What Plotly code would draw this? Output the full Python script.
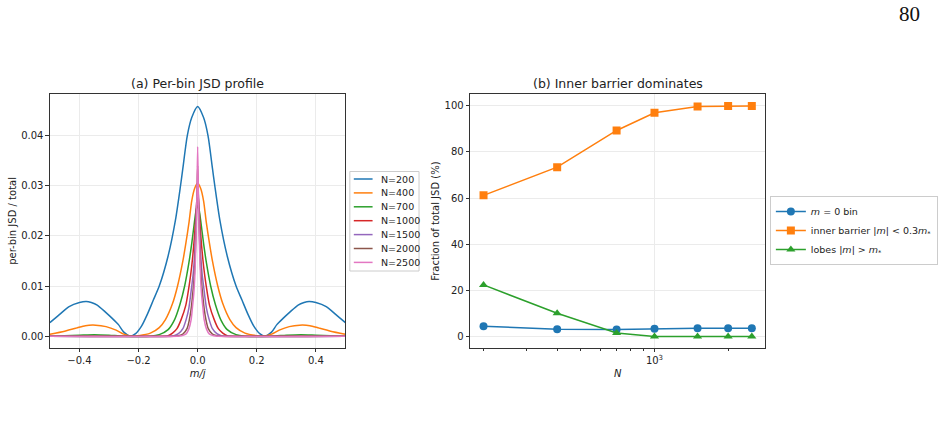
import plotly.graph_objects as go

# ---------------- Panel (a): per-bin JSD profile (half profiles, symmetric about m/j = 0) -------------
labels_a = ["N=200", "N=400", "N=700", "N=1000", "N=1500", "N=2000", "N=2500"]
colors = ["#1f77b4", "#ff7f0e", "#2ca02c", "#d62728", "#9467bd", "#8c564b", "#e377c2"]

m_200 = [0.0, 0.02, 0.035, 0.05, 0.058, 0.075, 0.10, 0.13, 0.15, 0.17, 0.19, 0.21, 0.228,
         0.25, 0.268, 0.29, 0.312, 0.34, 0.36, 0.377, 0.40, 0.435, 0.468, 0.5]
y_200 = [0.0458, 0.0436, 0.0400, 0.0335, 0.0300, 0.0232, 0.0160, 0.0100, 0.0072, 0.0044, 0.0020, 0.0005, 0.0,
         0.0008, 0.0023, 0.0036, 0.0048, 0.0062, 0.0067, 0.0069, 0.0067, 0.0059, 0.0043, 0.0027]

m_400 = [0.0, 0.01, 0.02, 0.029, 0.04, 0.05, 0.068, 0.085, 0.109, 0.13, 0.16, 0.2, 0.225,
         0.25, 0.276, 0.31, 0.345, 0.38, 0.411, 0.45, 0.5]
y_400 = [0.0305, 0.0295, 0.0270, 0.0228, 0.0185, 0.0150, 0.0100, 0.0065, 0.0033, 0.0017, 0.0006, 0.0001, 0.0,
         0.0004, 0.0012, 0.0019, 0.0022, 0.0021, 0.0016, 0.0010, 0.0004]

m_700 = [0.0, 0.005, 0.01, 0.02, 0.03, 0.044, 0.06, 0.078, 0.10, 0.13, 0.16, 0.25, 0.30, 0.35, 0.40, 0.45, 0.5]
y_700 = [0.0260, 0.0252, 0.0232, 0.0185, 0.0145, 0.0100, 0.0063, 0.0033, 0.0013, 0.0003, 0.0,
         0.0, 0.0002, 0.0003, 0.0002, 0.0001, 0.0]

m_1000 = [0.0, 0.004, 0.007, 0.012, 0.02, 0.029, 0.04, 0.056, 0.07, 0.085, 0.10, 0.13, 0.5]
y_1000 = [0.0290, 0.0260, 0.0232, 0.0190, 0.0140, 0.0100, 0.0062, 0.0033, 0.0015, 0.0006, 0.0001, 0.0, 0.0]

m_1500 = [0.0, 0.003, 0.006, 0.01, 0.015, 0.02, 0.03, 0.039, 0.05, 0.065, 0.08, 0.10, 0.5]
y_1500 = [0.0310, 0.0270, 0.0220, 0.0165, 0.0125, 0.0100, 0.0055, 0.0033, 0.0015, 0.0005, 0.0001, 0.0, 0.0]

m_2000 = [0.0, 0.002, 0.005, 0.008, 0.011, 0.015, 0.022, 0.028, 0.036, 0.05, 0.065, 0.08, 0.5]
y_2000 = [0.0340, 0.0290, 0.0220, 0.0165, 0.0125, 0.0095, 0.0055, 0.0033, 0.0015, 0.0004, 0.0001, 0.0, 0.0]

m_2500 = [0.0, 0.002, 0.004, 0.007, 0.010, 0.013, 0.018, 0.022, 0.03, 0.04, 0.055, 0.07, 0.5]
y_2500 = [0.0378, 0.0300, 0.0230, 0.0165, 0.0115, 0.0085, 0.0055, 0.0033, 0.0014, 0.0004, 0.0001, 0.0, 0.0]

profiles = [(m_200, y_200), (m_400, y_400), (m_700, y_700), (m_1000, y_1000),
            (m_1500, y_1500), (m_2000, y_2000), (m_2500, y_2500)]

# ---------------- Panel (b): fractions of total JSD -------------
N_vals = [200, 400, 700, 1000, 1500, 2000, 2500]
frac_m0 = [4.5, 3.2, 3.1, 3.4, 3.6, 3.6, 3.6]
frac_inner = [61.2, 73.4, 89.3, 97.0, 99.7, 99.9, 99.9]
frac_lobes = [22.4, 10.1, 1.6, 0.1, 0.0, 0.0, 0.0]

FONT = "DejaVu Sans"
AX = "#333333"
GRID = "#ebebeb"
W, H = 938, 435


def px_x(p):
    return p / W


def px_y(p):
    return 1 - p / H


fig = go.Figure()

for (mh, yh), lab, col in zip(profiles, labels_a, colors):
    x_full = [-v for v in mh[::-1]] + mh[1:]
    y_full = yh[::-1] + yh[1:]
    fig.add_trace(go.Scatter(x=x_full, y=y_full, mode="lines", name=lab,
                             line=dict(color=col, width=1.5, shape="spline", smoothing=0.7),
                             xaxis="x", yaxis="y", showlegend=False))

series_b = [
    (frac_m0, "<i>m</i> = 0 bin", "#1f77b4", "circle"),
    (frac_inner, "inner barrier |<i>m</i>| &lt; 0.3<i>m</i><sub>*</sub>", "#ff7f0e", "square"),
    (frac_lobes, "lobes |<i>m</i>| &gt; <i>m</i><sub>*</sub>", "#2ca02c", "triangle-up"),
]
for vals, lab, col, sym in series_b:
    fig.add_trace(go.Scatter(x=N_vals, y=vals, mode="lines+markers", name=lab,
                             line=dict(color=col, width=1.5),
                             marker=dict(color=col, symbol=sym, size=8),
                             xaxis="x2", yaxis="y2", legend="legend2"))

axis_common = dict(showline=True, linecolor=AX, linewidth=1, mirror=True,
                   ticks="outside", ticklen=3.5, tickcolor=AX, tickwidth=1,
                   showgrid=True, gridcolor=GRID, gridwidth=1, zeroline=False,
                   tickfont=dict(family=FONT, size=10, color="#222"))

annotations = [
    dict(text="(a) Per-bin JSD profile", x=px_x(200), y=px_y(84), xref="paper", yref="paper",
         showarrow=False, font=dict(family=FONT, size=12.5, color="#222"), xanchor="center", yanchor="middle"),
    dict(text="(b) Inner barrier dominates", x=px_x(625), y=px_y(84), xref="paper", yref="paper",
         showarrow=False, font=dict(family=FONT, size=12.5, color="#222"), xanchor="center", yanchor="middle"),
    dict(text="80", x=px_x(920), y=px_y(14), xref="paper", yref="paper",
         showarrow=False, font=dict(family="Liberation Serif", size=21, color="#111"),
         xanchor="center", yanchor="middle"),
    dict(text="per-bin JSD / total", x=px_x(12), y=px_y(221), xref="paper", yref="paper", textangle=-90,
         showarrow=False, font=dict(family=FONT, size=10, color="#222"), xanchor="center", yanchor="middle"),
    dict(text="Fraction of total JSD (%)", x=px_x(440), y=px_y(221), xref="paper", yref="paper", textangle=-90,
         showarrow=False, font=dict(family=FONT, size=10, color="#222"), xanchor="center", yanchor="middle"),
]

# Legend for panel (a), drawn as a compact box (matplotlib-style spacing)
shapes = []
lg_left, lg_top, lg_right, lg_bottom = 354, 171.5, 424, 271
shapes.append(dict(type="rect", xref="paper", yref="paper",
                   x0=px_x(lg_left), x1=px_x(lg_right), y0=px_y(lg_bottom), y1=px_y(lg_top),
                   line=dict(color="#cccccc", width=1), fillcolor="rgba(255,255,255,0.9)", layer="above"))
for i, (lab, col) in enumerate(zip(labels_a, colors)):
    yy = 179 + i * 13.9
    shapes.append(dict(type="line", xref="paper", yref="paper",
                       x0=px_x(358), x1=px_x(377), y0=px_y(yy), y1=px_y(yy),
                       line=dict(color=col, width=1.5), layer="above"))
    annotations.append(dict(text=lab, x=px_x(383), y=px_y(yy), xref="paper", yref="paper",
                            showarrow=False, font=dict(family=FONT, size=9.5, color="#222"),
                            xanchor="left", yanchor="middle"))

fig.update_layout(
    width=W, height=H, margin=dict(l=0, r=0, t=0, b=0),
    paper_bgcolor="white", plot_bgcolor="white",
    font=dict(family=FONT, size=10, color="#222"),
    xaxis=dict(domain=[px_x(50.5), px_x(349.5)], range=[-0.5, 0.5],
               tickvals=[-0.4, -0.2, 0.0, 0.2, 0.4], ticktext=["\u22120.4", "\u22120.2", "0.0", "0.2", "0.4"],
               title=dict(text="<i>m/j</i>", font=dict(family=FONT, size=10), standoff=4),
               anchor="y", **axis_common),
    yaxis=dict(domain=[px_y(347.7), px_y(94)], range=[-0.0023, 0.0483],
               tickvals=[0.0, 0.01, 0.02, 0.03, 0.04], tickformat=".2f",
               anchor="x", **axis_common),
    xaxis2=dict(domain=[px_x(475.7), px_x(774.3)], type="log", range=[2.2462, 3.4527],
                tickvals=[1000], ticktext=["10<sup>3</sup>"],
                minor=dict(tickvals=[200, 300, 400, 500, 600, 700, 800, 900, 2000],
                           ticks="outside", ticklen=2, tickcolor=AX, showgrid=False),
                title=dict(text="<i>N</i>", font=dict(family=FONT, size=10), standoff=4),
                anchor="y2", **axis_common),
    yaxis2=dict(domain=[px_y(347.7), px_y(94)], range=[-4.8, 105.1],
                tickvals=[0, 20, 40, 60, 80, 100],
                anchor="x2", **axis_common),
    legend2=dict(x=px_x(779), y=px_y(196), xanchor="left", yanchor="top",
                 bgcolor="rgba(255,255,255,0.9)", bordercolor="#cccccc", borderwidth=1,
                 font=dict(family=FONT, size=9.5), tracegroupgap=0, itemwidth=30),
    annotations=annotations,
    shapes=shapes,
)

fig.write_html("out.html")
